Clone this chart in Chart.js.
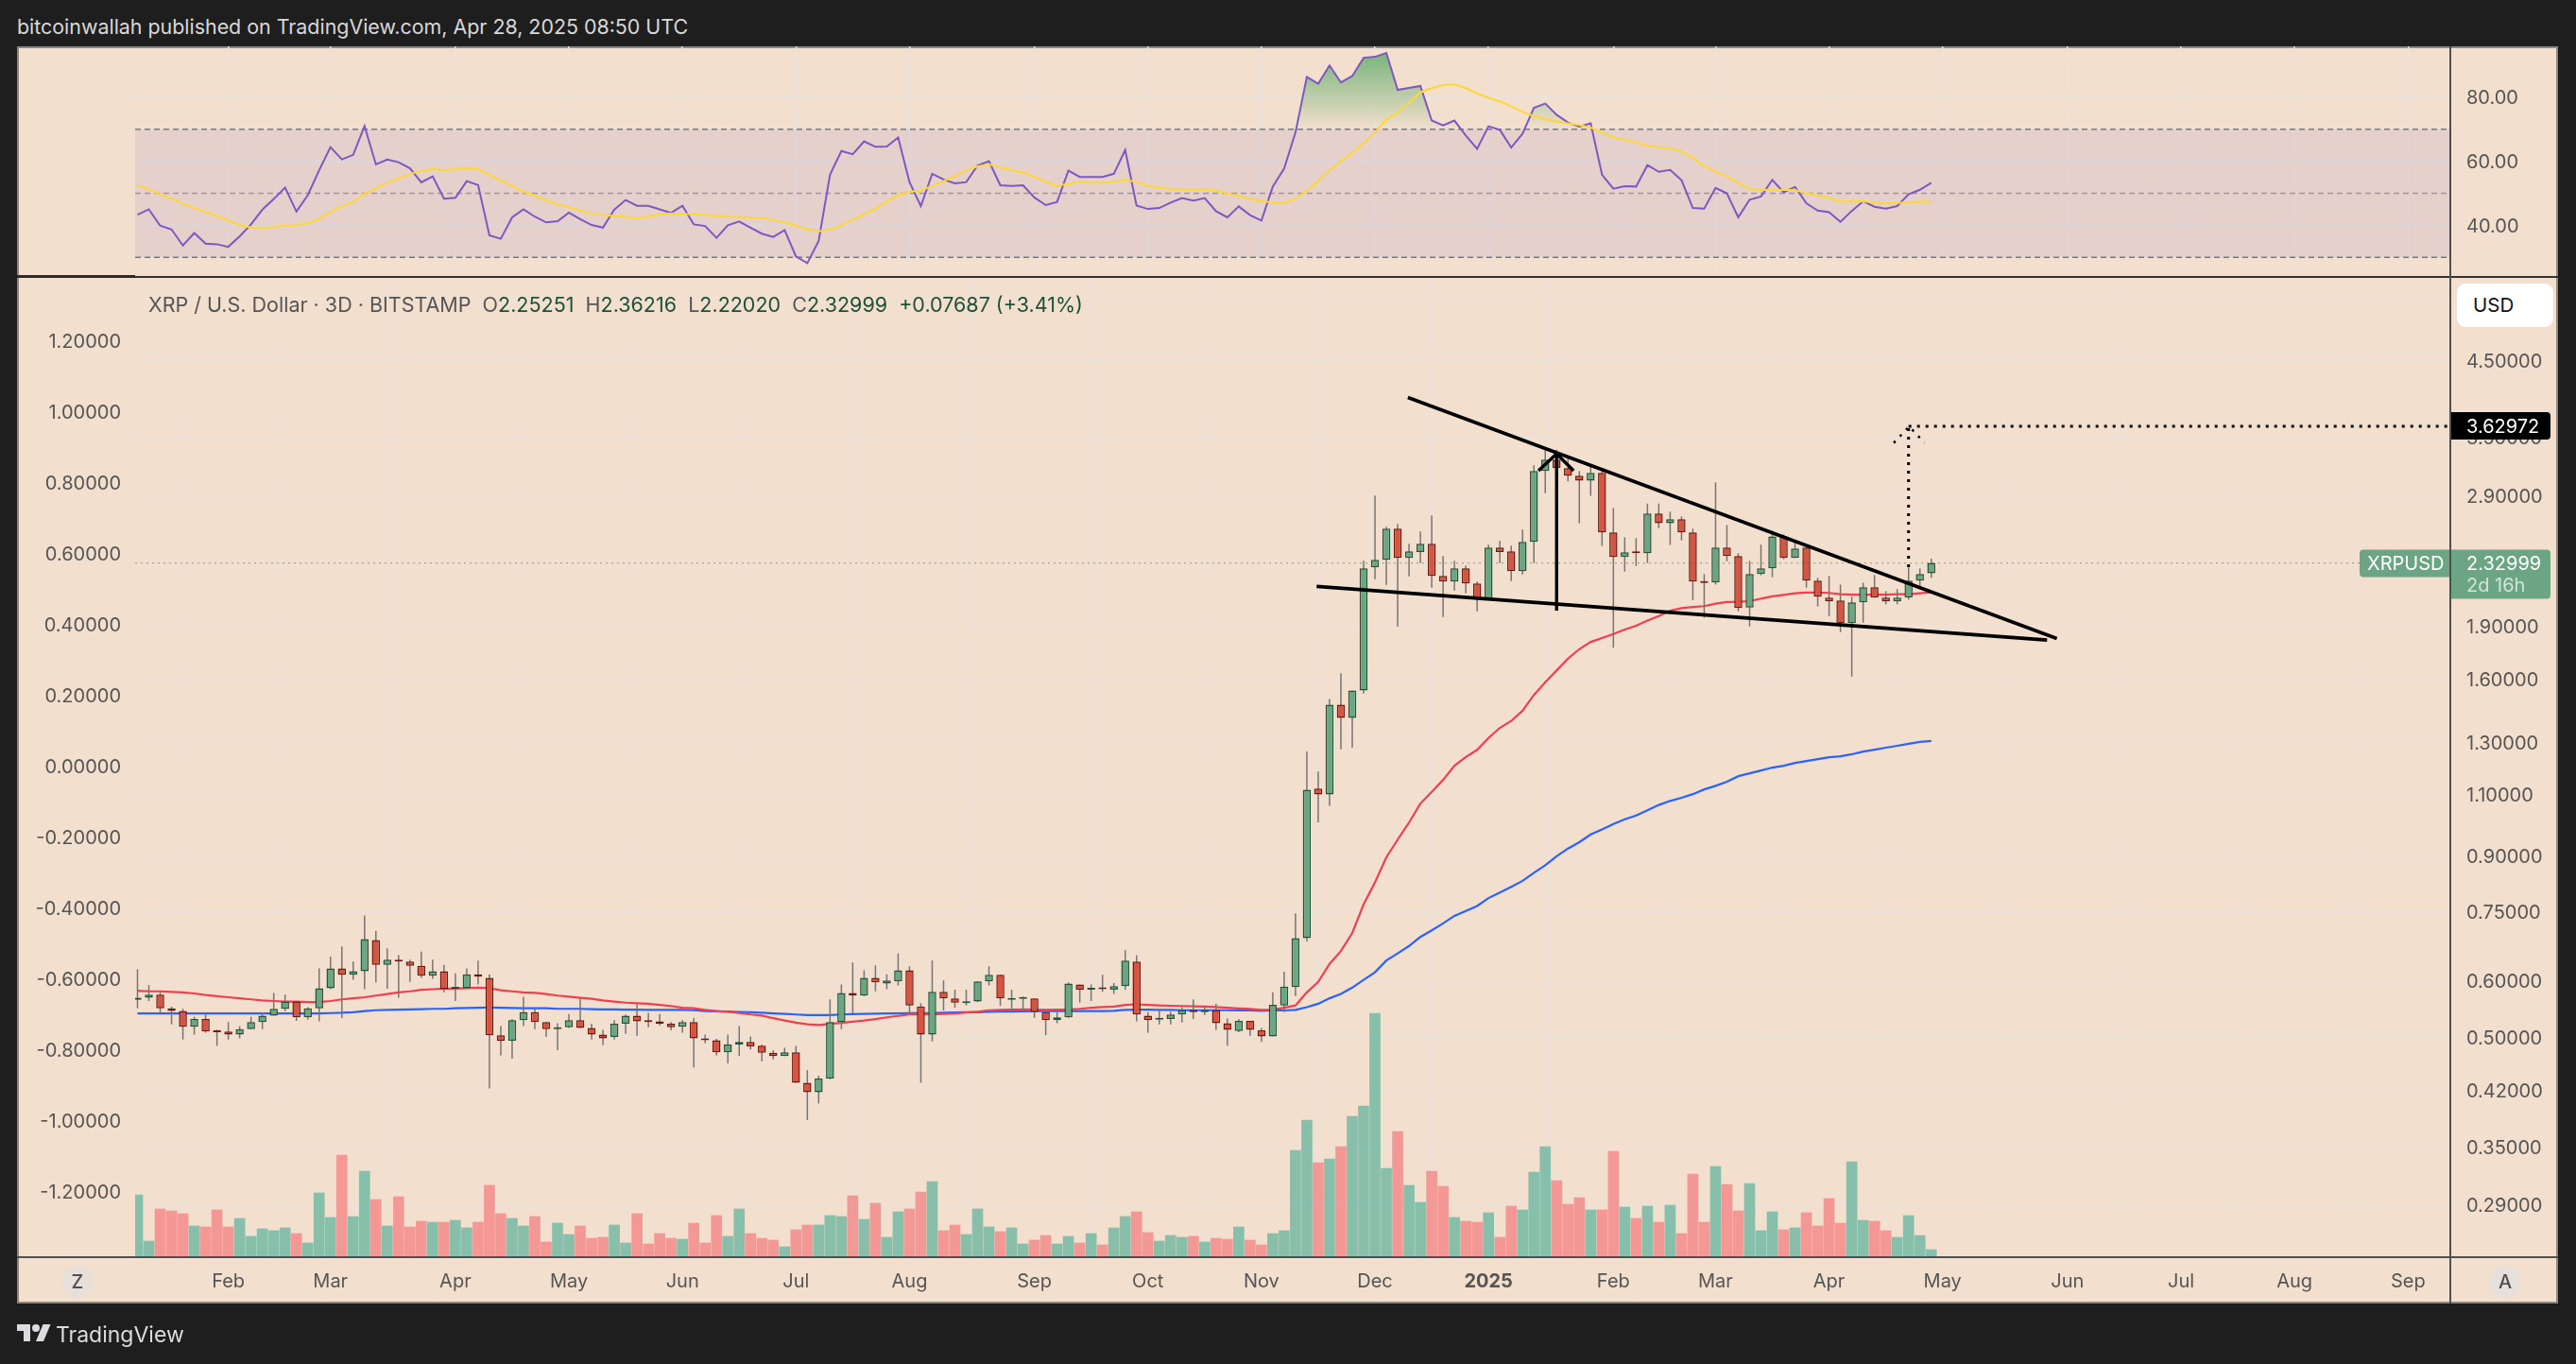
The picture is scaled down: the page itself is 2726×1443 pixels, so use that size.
<!DOCTYPE html>
<html>
<head>
<meta charset="utf-8">
<title>XRP / U.S. Dollar · 3D · BITSTAMP</title>
<script src="https://cdn.jsdelivr.net/npm/chart.js@4/dist/chart.umd.min.js"></script>
<style>
  html, body { margin: 0; padding: 0; width: 2726px; height: 1443px; overflow: hidden; background: #1e1e1e; }
  body, div, span { font-family: Inter, "Noto Sans", sans-serif; }
  .abs { position: absolute; white-space: pre; }
  canvas { position: absolute; display: block; }
  #panel { left: 18px; top: 49px; width: 2689px; height: 1330px; box-sizing: border-box; background: #f3dfce; border: 2px solid #8c8782; }
  #header { left: 18px; top: 14px; font-size: 21.4px; line-height: 28px; color: #d8d8d8; }
  #legend { left: 157px; top: 308px; font-size: 21.5px; line-height: 28px; color: #555; }
  #legend b { font-weight: 400; color: #1e5038; }
  .rule { position: absolute; background: #4f4f4f; }
  .badge { width: 34px; height: 34px; line-height: 34px; border-radius: 50%; background: #e7e0da; color: #4f4f4f;
           font-size: 20px; font-weight: 500; text-align: center; top: 1339px; }
  #usd { left: 2600px; top: 300px; width: 102px; height: 46px; line-height: 46px; border-radius: 9px; background: #fff;
         color: #131313; font-size: 20.5px; text-indent: 17px; }
  #brand { left: 59px; top: 1396px; font-size: 23px; line-height: 32px; color: #dcdce0; }
</style>
</head>
<body>
<div id="panel" class="abs"></div>
<canvas id="rsi-chart" width="2689" height="244" style="left:18px;top:49px"></canvas>
<canvas id="price-chart" width="2689" height="1086" style="left:18px;top:293px"></canvas>

<div class="rule" style="left:18px;top:291px;width:125px;height:3px;background:#2a2a2a"></div>
<div class="rule" style="left:143px;top:292px;width:2564px;height:2px;background:#333"></div>
<div class="rule" style="left:2592px;top:49px;width:2px;height:1330px"></div>
<div class="rule" style="left:18px;top:1329px;width:2689px;height:2px"></div>

<div id="header" class="abs">bitcoinwallah published on TradingView.com, Apr 28, 2025 08:50 UTC</div>
<div id="legend" class="abs">XRP / U.S. Dollar · 3D · BITSTAMP  O<b>2.25251</b>  H<b>2.36216</b>  L<b>2.22020</b>  C<b>2.32999</b>  <b>+0.07687 (+3.41%)</b></div>
<div id="usd" class="abs">USD</div>
<div class="abs badge" style="left:65px">Z</div>
<div class="abs badge" style="left:2634px">A</div>
<svg class="abs" style="left:18px;top:1397px" width="36" height="28" viewBox="0 0 36 28">
  <path fill="#dcdce0" d="M14 22H7V11H0V4h14v18zM28 22h-8l7.5-18h8L28 22z"/><circle fill="#dcdce0" cx="20" cy="8" r="4"/>
</svg>
<div id="brand" class="abs">TradingView</div>

<script>
'use strict';

/* ── Data (one entry per 3D bar) ──────────────────────────── */
const opens = [
  .564,.568,.574,.549,.544,.517,.530,.509,.509,.504,
  .513,.525,.536,.548,.561,.533,.549,.586,.625,.612,
  .619,.685,.632,.643,.639,.630,.610,.619,.585,.586,
  .613,.606,.503,.494,.528,.542,.525,.513,.516,.528,
  .515,.504,.500,.522,.536,.526,.526,.522,.517,.525,
  .498,.495,.476,.488,.492,.486,.475,.470,.476,.431,
  .418,.437,.525,.577,.572,.606,.595,.599,.621,.552,
  .504,.579,.567,.558,.561,.599,.612,.564,.566,.567,
  .542,.528,.533,.593,.583,.585,.583,.590,.639,.536,
  .529,.530,.538,.546,.542,.546,.523,.510,.527,.511,
  .501,.554,.588,.689,1.120,1.099,1.471,1.409,1.540,2.296,
  2.353,2.604,2.368,2.413,2.480,2.234,2.193,2.289,2.179,2.075,
  2.449,2.420,2.268,2.495,3.140,3.258,3.169,3.092,3.044,3.121,
  2.572,2.375,2.420,2.405,2.735,2.650,2.685,2.572,2.193,2.186,
  2.449,2.382,2.016,2.247,2.289,2.540,2.368,2.449,2.200,2.082,
  2.062,1.916,2.050,2.153,2.082,2.056,2.082,2.200,2.25251,
];
const highs = [
  .623,.592,.579,.552,.548,.534,.539,.512,.525,.518,
  .534,.541,.577,.574,.562,.551,.625,.649,.671,.639,
  .742,.706,.667,.652,.643,.660,.643,.632,.615,.625,
  .641,.613,.518,.530,.570,.548,.525,.523,.539,.568,
  .522,.512,.528,.538,.556,.541,.539,.525,.528,.532,
  .504,.497,.504,.518,.501,.488,.479,.483,.486,.449,
  .441,.565,.593,.637,.621,.631,.613,.656,.629,.558,
  .641,.601,.583,.583,.599,.629,.612,.583,.570,.567,
  .542,.542,.597,.593,.593,.612,.596,.663,.652,.542,
  .546,.543,.551,.565,.551,.557,.531,.530,.527,.515,
  .578,.618,.747,1.263,1.184,1.498,1.629,1.540,2.346,2.899,
  2.620,2.645,2.480,2.580,2.718,2.383,2.346,2.310,2.193,2.472,
  2.503,2.465,2.596,3.199,3.394,3.365,3.288,3.140,3.208,3.140,
  2.786,2.532,2.525,2.825,2.825,2.752,2.710,2.604,2.247,3.026,
  2.635,2.405,2.346,2.472,2.588,2.556,2.510,2.472,2.220,2.234,
  2.172,2.088,2.186,2.240,2.126,2.140,2.296,2.289,2.36216,
];
const lows = [
  .549,.562,.542,.521,.496,.504,.507,.486,.496,.498,
  .513,.513,.536,.544,.527,.529,.526,.584,.532,.602,
  .584,.597,.585,.568,.598,.606,.604,.578,.562,.586,
  .593,.423,.471,.466,.518,.513,.500,.479,.515,.515,
  .496,.487,.496,.505,.502,.516,.519,.511,.507,.453,
  .490,.471,.459,.470,.480,.462,.465,.470,.431,.382,
  .403,.436,.513,.540,.571,.580,.584,.591,.541,.431,
  .493,.545,.550,.554,.560,.591,.553,.544,.544,.532,
  .503,.523,.532,.559,.562,.579,.575,.583,.526,.507,
  .521,.521,.524,.530,.537,.512,.486,.508,.502,.492,
  .501,.542,.571,.682,1.004,1.058,1.272,1.279,1.525,2.210,
  2.170,1.896,2.231,2.329,2.150,1.955,2.130,2.111,1.991,2.075,
  2.329,2.197,2.244,2.329,2.923,2.797,3.036,2.650,2.896,2.462,
  1.769,2.265,2.307,2.329,2.608,2.470,2.507,2.065,1.951,2.172,
  2.343,1.991,1.896,2.238,2.224,2.358,2.368,2.150,2.023,1.961,
  1.861,1.611,1.919,2.082,2.037,2.037,2.068,2.159,2.2202,
];
const closes = [
  .568,.574,.549,.544,.517,.530,.509,.508,.504,.513,
  .525,.536,.548,.561,.533,.549,.586,.625,.612,.619,
  .687,.632,.643,.639,.630,.610,.619,.584,.586,.613,
  .608,.503,.494,.528,.542,.525,.513,.516,.528,.515,
  .504,.498,.522,.536,.526,.525,.522,.516,.525,.498,
  .495,.476,.488,.492,.485,.475,.470,.476,.431,.418,
  .437,.525,.577,.572,.606,.597,.601,.621,.554,.504,
  .579,.567,.559,.561,.599,.612,.567,.565,.567,.542,
  .528,.533,.595,.583,.585,.584,.590,.641,.538,.528,
  .530,.538,.546,.542,.546,.523,.512,.527,.512,.501,
  .555,.589,.689,1.116,1.099,1.471,1.409,1.540,2.289,2.353,
  2.604,2.368,2.420,2.480,2.234,2.193,2.289,2.179,2.075,2.449,
  2.413,2.268,2.495,3.140,3.258,3.169,3.092,3.044,3.121,2.572,
  2.375,2.412,2.405,2.735,2.650,2.685,2.572,2.193,2.183,2.449,
  2.382,2.012,2.247,2.289,2.540,2.368,2.442,2.200,2.088,2.056,
  1.916,2.050,2.153,2.082,2.056,2.082,2.200,2.247,2.32999,
];
const volumes = [
  66,17,51,49,46,33,32,50,32,41,
  22,30,28,31,25,15,68,42,108,43,
  91,61,33,64,32,38,37,37,39,31,
  37,76,46,41,33,43,16,36,24,33,
  20,21,34,15,46,14,25,20,19,36,
  15,44,22,51,25,20,18,11,29,34,
  34,44,43,65,40,57,21,48,51,69,
  80,28,34,24,51,32,27,31,14,18,
  23,14,22,15,25,13,31,43,48,26,
  17,23,21,22,16,20,19,32,18,13,
  25,28,113,145,100,104,117,149,160,258,
  94,133,76,58,91,75,42,38,37,47,
  21,54,50,90,117,81,56,63,50,50,
  112,53,41,54,37,55,25,88,37,96,
  77,49,78,28,48,29,31,47,33,62,
  36,101,39,38,28,21,44,23,8,
];
const maFast = [
  .581,.580,.580,.579,.578,.576,.573,.571,.569,.567,
  .565,.563,.562,.561,.561,.560,.560,.562,.565,.567,
  .569,.572,.575,.578,.580,.583,.584,.585,.585,.586,
  .587,.586,.582,.580,.578,.577,.575,.572,.570,.568,
  .566,.563,.561,.559,.558,.557,.555,.553,.550,.549,
  .546,.544,.5425,.5405,.538,.536,.5315,.5275,.524,.521,
  .520,.522,.5235,.5255,.5275,.530,.533,.5355,.538,.538,
  .538,.539,.540,.5415,.543,.5455,.546,.5465,.547,.5465,
  .546,.5465,.547,.548,.550,.551,.552,.555,.556,.555,
  .554,.5535,.553,.5525,.552,.551,.550,.5486,.5476,.546,
  .5465,.550,.554,.578,.598,.634,.661,.701,.769,.826,
  .896,.949,1.003,1.067,1.108,1.152,1.206,1.241,1.270,1.320,
  1.364,1.395,1.442,1.518,1.582,1.643,1.708,1.761,1.803,1.826,
  1.850,1.877,1.900,1.932,1.961,1.996,2.012,2.019,2.025,2.041,
  2.052,2.054,2.058,2.075,2.090,2.100,2.111,2.116,2.116,2.114,
  2.105,2.102,2.102,2.102,2.102,2.105,2.105,2.111,2.118,
];
const maSlow = [
  .540,.540,.540,.540,.540,.540,.540,.540,.540,.540,
  .540,.540,.540,.540,.540,.540,.540,.5405,.541,.542,
  .544,.5455,.546,.5465,.547,.5475,.548,.548,.549,.5495,
  .550,.5505,.550,.5495,.549,.549,.549,.548,.548,.548,
  .5475,.547,.547,.5465,.5465,.546,.546,.546,.546,.5455,
  .544,.5435,.543,.5425,.542,.541,.540,.539,.538,.537,
  .537,.537,.538,.5385,.539,.5395,.540,.540,.5405,.5405,
  .5405,.541,.5415,.542,.542,.5425,.543,.543,.5435,.544,
  .544,.544,.544,.544,.544,.544,.5445,.546,.5465,.5465,
  .546,.546,.5455,.5455,.5455,.5455,.5455,.5452,.545,.5445,
  .545,.545,.546,.551,.557,.567,.575,.587,.602,.617,
  .641,.656,.672,.692,.707,.723,.741,.753,.765,.785,
  .799,.814,.830,.852,.873,.899,.922,.941,.965,.981,
  .998,1.014,1.026,1.044,1.062,1.076,1.087,1.100,1.117,1.130,
  1.145,1.166,1.177,1.188,1.199,1.206,1.217,1.225,1.232,1.240,
  1.244,1.252,1.263,1.271,1.279,1.287,1.295,1.303,1.307,
];
const rsiValues = [
  43.3,45.0,39.9,38.7,33.7,37.6,34.3,34.1,33.3,36.6,
  40.3,44.9,48.2,51.8,44.3,49.4,57.2,64.4,60.6,62.0,
  71.0,59.0,60.5,59.7,57.8,53.4,55.3,48.3,48.6,53.8,
  52.6,36.9,35.8,42.5,45.0,42.7,40.9,41.3,44.0,41.9,
  40.1,39.3,44.9,47.9,46.1,46.1,45.0,43.9,46.1,40.3,
  39.8,36.1,40.0,41.2,39.3,37.4,36.4,38.5,30.3,28.2,
  35.1,55.8,63.2,62.2,66.2,64.5,64.6,67.4,53.5,46.0,
  56.1,54.3,53.1,53.5,58.7,60.0,52.5,52.3,52.5,48.7,
  46.3,47.3,57.1,55.1,55.1,55.1,56.1,63.5,46.2,45.1,
  45.4,47.1,48.5,47.7,48.5,44.4,42.5,45.9,43.2,41.5,
  52.1,57.7,69.0,86.3,84.2,89.9,84.6,86.6,92.3,92.6,
  93.8,82.3,82.9,83.5,72.7,71.2,72.7,68.0,63.9,70.9,
  69.8,64.3,68.6,76.7,78.0,74.5,72.1,70.8,71.8,55.8,
  51.4,52.2,52.1,58.8,56.7,57.3,54.1,45.4,45.2,51.7,
  50.0,42.5,48.0,49.0,54.2,50.3,52.0,46.9,44.6,44.1,
  41.1,44.5,47.5,45.8,45.2,46.0,49.7,51.1,53.3,
];
const rsiMa = [
  52.5,51.3,49.6,48.4,46.7,45.4,44.2,42.9,41.5,40.1,
  39.3,39.1,39.5,40.0,40.1,40.7,42.0,44.2,45.9,47.4,
  49.9,51.5,53.3,54.7,56.0,57.1,57.5,57.2,57.5,57.8,
  57.5,55.7,53.9,52.3,50.5,49.2,47.8,46.6,45.6,44.6,
  43.7,43.2,42.9,42.6,42.3,42.8,43.4,43.7,43.5,43.5,
  43.3,42.9,42.7,42.6,42.5,42.3,41.7,40.9,39.9,38.8,
  38.1,38.7,40.0,41.7,43.5,45.2,47.4,49.4,50.5,50.8,
  52.3,53.8,55.3,57.2,58.4,59.0,58.2,57.2,56.5,55.1,
  53.6,52.3,53.0,53.5,53.3,53.3,53.7,54.3,53.5,52.3,
  51.8,51.3,51.2,51.2,51.3,50.8,49.9,49.2,48.2,47.5,
  47.2,46.9,48.4,50.8,53.8,57.2,60.0,62.6,65.6,69.0,
  73.0,75.2,78.4,81.5,82.8,83.8,84.0,82.8,81.2,79.8,
  78.7,77.1,75.4,74.1,73.1,72.4,71.8,71.3,70.5,69.0,
  67.5,66.7,65.9,64.9,64.4,64.1,63.1,61.0,58.5,56.8,
  55.3,53.2,51.5,51.0,51.1,51.0,51.0,50.0,49.4,48.5,
  47.4,47.4,47.5,47.1,46.8,47.0,47.2,47.4,47.3,
];

/* Axis ticks: time ticks sit on bar numbers */
const monthBars   = [8, 17, 28, 38, 48, 58, 68, 79, 89, 99, 109, 119, 130, 139, 149, 159, 170, 180, 190, 200];
const monthLabels = ['Feb','Mar','Apr','May','Jun','Jul','Aug','Sep','Oct','Nov','Dec','2025','Feb','Mar','Apr','May','Jun','Jul','Aug','Sep'];
const rightTicks  = [5.5, 4.5, 3.5, 2.9, 2.3, 1.9, 1.6, 1.3, 1.1, 0.9, 0.75, 0.6, 0.5, 0.42, 0.35, 0.29];
const leftTicks   = [1.2, 1.0, 0.8, 0.6, 0.4, 0.2, 0, -0.2, -0.4, -0.6, -0.8, -1.0, -1.2];
const rsiTicks    = [80, 60, 40];
const rsiLevels   = [70, 50, 30];

/* Drawn lines as [bar, price] */
const upperTrend   = [[111.9, 3.987], [169.06, 1.823]];
const lowerTrend   = [[103.86, 2.159], [168.2, 1.814]];
const flagPole     = [[125, 3.321], [125, 1.996]];
const flagHead     = [[123.4, 3.143], [125, 3.321], [126.5, 3.143]];
const targetStem   = [[156, 2.298], [156, 3.62972]];
const targetHead   = [[154.7, 3.44], [156.05, 3.62972], [157.4, 3.44]];
const targetPrice  = 3.62972;
const lastPrice    = 2.32999;

/* ── Panes ────────────────────────────────────────────────── */
const X_MIN = -0.208, X_MAX = 203.72;
const LEFT_W = 125, RIGHT_W = 114, TIME_H = 49;
const TEXT = '#555555';
const GRID = '#ebe3db';
const FONT = 'Inter, "Noto Sans", sans-serif';

const xy   = ys => ys.map((y, i) => ({ x: i, y }));
const pts  = list => list.map(([x, y]) => ({ x, y }));
const isUp = i => closes[i] >= opens[i];
const bars = opens.map((_, i) => i);

// Pins a scale to a fixed box so the plot area lands where the reference has it.
// The value axes also get their labels nudged down to sit on the grid lines.
function fixBox(w, h) {
  return scale => {
    if (w != null) {
      scale.width = w;
      if (!scale.drawLabelsRaw) {
        scale.drawLabelsRaw = scale.drawLabels;
        scale.drawLabels = function (area) {
          this.ctx.save();
          this.ctx.translate(0, 1.5);
          this.drawLabelsRaw(area);
          this.ctx.restore();
        };
      }
    }
    if (h != null) scale.height = h;
    scale.paddingTop = scale.paddingBottom = scale.paddingLeft = scale.paddingRight = 0;
  };
}
const setTicks = values => scale => { scale.ticks = values.map(value => ({ value })); };

function lineSet(data, color, width, order, yAxisID, extra) {
  return Object.assign({
    type: 'line', data, yAxisID, xAxisID: 'x', order,
    borderColor: color, borderWidth: width, pointRadius: 0, tension: 0, fill: false,
  }, extra);
}

function timeAxis(showLabels) {
  return {
    type: 'linear', min: X_MIN, max: X_MAX, bounds: 'data', offset: false,
    afterBuildTicks: setTicks(monthBars),
    afterFit: fixBox(null, showLabels ? TIME_H : 0),
    border: { display: false },
    grid: { color: GRID, lineWidth: 1.5, drawTicks: false },
    ticks: {
      display: showLabels, autoSkip: false, maxRotation: 0, minRotation: 0, padding: 14, color: TEXT,
      font: ctx => ({ size: 20, family: FONT, weight: ctx.tick && ctx.tick.value === 119 ? '700' : '400' }),
      callback: v => monthLabels[monthBars.indexOf(v)],
    },
  };
}

/* ── Price tags on the right scale ────────────────────────── */
function tag(ctx, x, y, w, h, radii, fill) {
  ctx.beginPath();
  ctx.roundRect(x, y, w, h, radii);
  ctx.fillStyle = fill;
  ctx.fill();
}

const priceTags = {
  id: 'priceTags',
  afterDraw(ch) {
    const ctx = ch.ctx, sc = ch.scales.yRight, ax = ch.chartArea.right;
    const yT = sc.getPixelForValue(targetPrice), yL = sc.getPixelForValue(lastPrice);
    ctx.save();
    ctx.font = `20px ${FONT}`;
    ctx.textBaseline = 'middle';
    ctx.textAlign = 'left';

    tag(ctx, ax, yT - 15, 106, 29, [0, 4, 4, 0], '#000');
    ctx.fillStyle = '#fff';
    ctx.fillText(targetPrice.toFixed(5), ax + 17, yT + 1);

    tag(ctx, ax - 96, yL - 14, 96, 29, [4, 0, 0, 4], '#6ba583');
    tag(ctx, ax, yL - 14, 106, 52, [0, 4, 4, 0], '#6ba583');
    ctx.fillStyle = '#fff';
    ctx.fillText('XRPUSD', ax - 88, yL + 1);
    ctx.fillText(lastPrice.toFixed(5), ax + 17, yL + 1);
    ctx.fillStyle = '#d3e3d8';
    ctx.fillText('2d 16h', ax + 17, yL + 24);
    ctx.restore();
  }
};

/* ── RSI pane ─────────────────────────────────────────────── */
new Chart(document.getElementById('rsi-chart'), {
  type: 'line',
  data: {
    datasets: [
      lineSet(pts([[X_MIN, rsiLevels[0]], [X_MAX, rsiLevels[0]]]), '#7a7a7a', 1.5, 5, 'y', {
        borderDash: [6, 4], backgroundColor: 'rgba(126,87,194,0.11)', fill: { target: { value: rsiLevels[2] } },
      }),
      lineSet(pts([[X_MIN, rsiLevels[1]], [X_MAX, rsiLevels[1]]]), '#a89d98', 1.5, 5, 'y', { borderDash: [6, 4] }),
      lineSet(pts([[X_MIN, rsiLevels[2]], [X_MAX, rsiLevels[2]]]), '#7a7a7a', 1.5, 5, 'y', { borderDash: [6, 4] }),
      lineSet(xy(rsiValues), '#7e57c2', 2, 2, 'y', {
        fill: { target: { value: rsiLevels[0] }, below: 'rgba(0,0,0,0)' },
        backgroundColor(c) {
          const area = c.chart.chartArea;
          if (!area) return 'rgba(0,0,0,0)';
          const sc = c.chart.scales.y;
          const g = c.chart.ctx.createLinearGradient(0, sc.getPixelForValue(94), 0, sc.getPixelForValue(70));
          g.addColorStop(0, 'rgba(60,160,80,0.68)');
          g.addColorStop(1, 'rgba(60,160,80,0)');
          return g;
        },
      }),
      lineSet(xy(rsiMa), '#fdd835', 2, 1, 'y'),
    ],
  },
  options: {
    responsive: false, animation: false, devicePixelRatio: 1,
    layout: { padding: 0 },
    events: [],
    plugins: { legend: { display: false }, tooltip: { enabled: false } },
    scales: {
      x: timeAxis(false),
      y: {
        type: 'linear', position: 'right', min: 23.89, max: 95.87, bounds: 'data',
        afterBuildTicks: setTicks(rsiTicks), afterFit: fixBox(RIGHT_W, null),
        border: { display: false },
        grid: { color: GRID, lineWidth: 1.5, drawTicks: false },
        ticks: { autoSkip: false, crossAlign: 'near', padding: 17, color: TEXT, font: { size: 20, family: FONT }, callback: v => v.toFixed(2) },
      },
      yBlank: {
        type: 'linear', position: 'left', afterFit: fixBox(LEFT_W, null),
        border: { display: false }, grid: { display: false }, ticks: { display: false },
      },
    },
  },
});

/* ── Price pane: volume, averages, candles, drawings ──────── */
new Chart(document.getElementById('price-chart'), {
  type: 'line',
  plugins: [priceTags],
  data: {
    datasets: [
      {
        type: 'bar', yAxisID: 'yVol', xAxisID: 'x', order: 9, grouped: false, barThickness: 11,
        data: xy(volumes),
        backgroundColor: bars.map(i => isUp(i) ? 'rgba(8,153,129,0.46)' : 'rgba(242,54,69,0.42)'),
      },
      lineSet(pts([[X_MIN, lastPrice], [X_MAX, lastPrice]]), 'rgba(107,165,131,0.8)', 1.2, 8, 'yRight', { borderDash: [2, 4] }),
      lineSet(xy(maSlow), '#2962ff', 2.2, 7, 'yRight'),
      lineSet(xy(maFast), '#f23e50', 2.2, 6, 'yRight'),
      {
        type: 'bar', yAxisID: 'yRight', xAxisID: 'x', order: 5, grouped: false, barThickness: 1.5, inflateAmount: 0,
        data: bars.map(i => ({ x: i, y: [lows[i], highs[i]] })),
        backgroundColor: '#757575',
      },
      {
        type: 'bar', yAxisID: 'yRight', xAxisID: 'x', order: 4, grouped: false, barThickness: 8.5, minBarLength: 2,
        inflateAmount: 0, borderWidth: 1.5, borderSkipped: false,
        data: bars.map(i => ({ x: i, y: [opens[i], closes[i]] })),
        backgroundColor: bars.map(i => isUp(i) ? '#6ba583' : '#d75442'),
        borderColor: bars.map(i => isUp(i) ? '#225437' : '#6e1a12'),
      },
      lineSet(pts(upperTrend), '#000', 3.6, 3, 'yRight'),
      lineSet(pts(lowerTrend), '#000', 3.6, 3, 'yRight'),
      lineSet(pts(flagPole), '#000', 3.4, 3, 'yRight'),
      lineSet(pts(flagHead), '#000', 3.4, 3, 'yRight'),
      lineSet(pts(targetStem), '#000', 3, 2, 'yRight', { borderDash: [3, 6] }),
      lineSet(pts([[156, targetPrice], [X_MAX, targetPrice]]), '#000', 3, 2, 'yRight', { borderDash: [3, 6] }),
      lineSet(pts(targetHead), '#000', 2.5, 2, 'yRight', { borderDash: [2.5, 7] }),
    ],
  },
  options: {
    responsive: false, animation: false, devicePixelRatio: 1,
    layout: { padding: 0 },
    events: [],
    plugins: { legend: { display: false }, tooltip: { enabled: false } },
    scales: {
      x: timeAxis(true),
      yRight: {
        type: 'logarithmic', position: 'right', min: 0.2447, max: 5.895, bounds: 'data',
        afterBuildTicks: setTicks(rightTicks), afterFit: fixBox(RIGHT_W, null),
        border: { display: false },
        grid: { color: GRID, lineWidth: 1.5, drawTicks: false },
        ticks: { autoSkip: false, crossAlign: 'near', padding: 17, color: TEXT, font: { size: 20, family: FONT }, callback: v => v.toFixed(5) },
      },
      yLeft: {
        type: 'linear', position: 'left', min: -1.3867, max: 1.3787, bounds: 'data',
        afterBuildTicks: setTicks(leftTicks), afterFit: fixBox(LEFT_W, null),
        border: { display: false }, grid: { display: false },
        ticks: { autoSkip: false, crossAlign: 'near', padding: 7, color: TEXT, font: { size: 20, family: FONT }, callback: v => v.toFixed(5) },
      },
      yVol: { type: 'linear', display: false, min: 0, max: 1037 },
    },
  },
});
</script>
</body>
</html>
